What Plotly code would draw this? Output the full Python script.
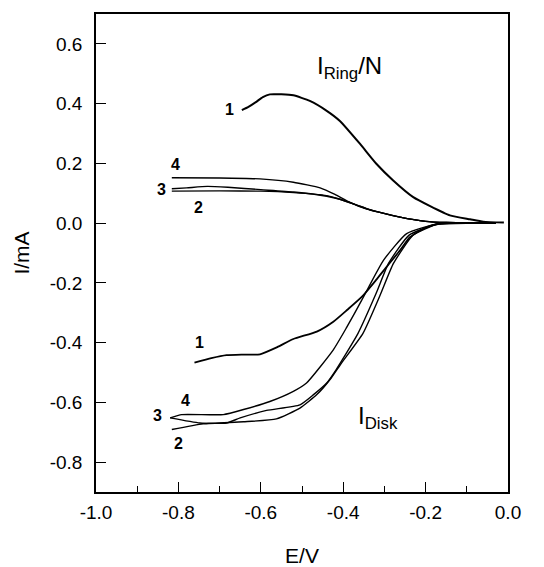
import plotly.graph_objects as go

# Ring currents (I_Ring/N)
ring1_E = [-0.646, -0.63, -0.612, -0.595, -0.578, -0.55, -0.521, -0.481, -0.44, -0.408, -0.359, -0.319, -0.278, -0.23, -0.189, -0.141, -0.092, -0.06, -0.01]
ring1_I = [0.378, 0.389, 0.405, 0.422, 0.431, 0.431, 0.428, 0.409, 0.376, 0.342, 0.265, 0.198, 0.142, 0.087, 0.057, 0.026, 0.013, 0.005, 0.002]

ring2_E = [-0.816, -0.70, -0.60, -0.52, -0.44, -0.408, -0.37, -0.335, -0.311, -0.262, -0.20, -0.15, -0.03]
ring2_I = [0.107, 0.108, 0.107, 0.102, 0.092, 0.080, 0.062, 0.045, 0.036, 0.020, 0.006, 0.002, 0.0]

ring3_E = [-0.816, -0.78, -0.73, -0.68, -0.60, -0.52, -0.44, -0.408, -0.37, -0.335, -0.311, -0.262, -0.20, -0.15, -0.03]
ring3_I = [0.115, 0.118, 0.123, 0.120, 0.112, 0.104, 0.090, 0.080, 0.062, 0.044, 0.036, 0.020, 0.006, 0.002, 0.0]

ring4_E = [-0.816, -0.70, -0.602, -0.521, -0.456, -0.42, -0.39, -0.355, -0.311, -0.262, -0.20, -0.15, -0.03]
ring4_I = [0.152, 0.151, 0.148, 0.137, 0.118, 0.096, 0.074, 0.053, 0.036, 0.020, 0.006, 0.002, 0.0]

# Disk currents
disk1_E = [-0.761, -0.72, -0.683, -0.64, -0.602, -0.56, -0.521, -0.464, -0.424, -0.39, -0.355, -0.32, -0.295, -0.262, -0.238, -0.197, -0.17, -0.10, -0.03]
disk1_I = [-0.467, -0.452, -0.442, -0.440, -0.439, -0.415, -0.388, -0.363, -0.330, -0.290, -0.247, -0.190, -0.147, -0.091, -0.047, -0.013, -0.003, 0.0, 0.0]

disk2_E = [-0.816, -0.74, -0.642, -0.562, -0.505, -0.464, -0.43, -0.405, -0.352, -0.31, -0.278, -0.23, -0.17, -0.10, -0.03]
disk2_I = [-0.691, -0.672, -0.665, -0.655, -0.619, -0.574, -0.52, -0.47, -0.369, -0.24, -0.135, -0.04, -0.003, 0.0, 0.0]

disk3_E = [-0.820, -0.748, -0.683, -0.650, -0.586, -0.505, -0.472, -0.44, -0.417, -0.364, -0.32, -0.29, -0.24, -0.17, -0.10, -0.03]
disk3_I = [-0.652, -0.669, -0.669, -0.652, -0.627, -0.608, -0.574, -0.535, -0.49, -0.369, -0.235, -0.135, -0.04, -0.003, 0.0, 0.0]

disk4_E = [-0.820, -0.792, -0.691, -0.642, -0.578, -0.521, -0.489, -0.424, -0.392, -0.355, -0.302, -0.246, -0.17, -0.10, -0.03]
disk4_I = [-0.652, -0.641, -0.641, -0.624, -0.597, -0.563, -0.535, -0.424, -0.35, -0.258, -0.124, -0.035, -0.002, 0.0, 0.0]

curve_labels = ["1", "4", "3", "2", "1", "4", "3", "2"]
label_E = [-0.677, -0.806, -0.842, -0.752, -0.750, -0.782, -0.850, -0.799]
label_I = [0.379, 0.196, 0.112, 0.052, -0.400, -0.594, -0.644, -0.738]

x_ticks = [-1.0, -0.8, -0.6, -0.4, -0.2, 0.0]
y_ticks = [-0.8, -0.6, -0.4, -0.2, 0.0, 0.2, 0.4, 0.6]

FONT = "Arial, Liberation Sans"

fig = go.Figure()
series = [
    (ring1_E, ring1_I, 2.0), (ring2_E, ring2_I, 1.4), (ring3_E, ring3_I, 1.4), (ring4_E, ring4_I, 1.4),
    (disk1_E, disk1_I, 1.8), (disk2_E, disk2_I, 1.4), (disk3_E, disk3_I, 1.4), (disk4_E, disk4_I, 1.4),
]
for xs, ys, w in series:
    fig.add_trace(go.Scatter(x=xs, y=ys, mode="lines",
                             line=dict(color="black", width=w, shape="spline", smoothing=0.5),
                             showlegend=False, hoverinfo="skip"))

for t, ex, iy in zip(curve_labels, label_E, label_I):
    fig.add_annotation(x=ex, y=iy, text="<b>%s</b>" % t, showarrow=False,
                       font=dict(family=FONT, size=16, color="black"))

fig.add_annotation(x=-0.385, y=0.522, text="I<sub>Ring</sub>/N", showarrow=False,
                   font=dict(family=FONT, size=24, color="black"))
fig.add_annotation(x=-0.316, y=-0.651, text="I<sub>Disk</sub>", showarrow=False,
                   font=dict(family=FONT, size=24, color="black"))

axis_font = dict(family=FONT, size=19, color="black")
title_font = dict(family=FONT, size=21, color="black")
fig.update_layout(
    width=544, height=567,
    margin=dict(l=96, r=36, t=14, b=75),
    paper_bgcolor="white", plot_bgcolor="white",
    xaxis=dict(range=[-1.0, 0.0], tickvals=x_ticks, ticktext=["%.1f" % v for v in x_ticks],
               ticks="inside", ticklen=10, tickwidth=1.2, tickcolor="black",
               minor=dict(dtick=0.1, tick0=0, ticks="inside", ticklen=6, tickwidth=1.2, tickcolor="black"),
               showline=True, linecolor="black", linewidth=1.5, mirror=True, automargin=False,
               showgrid=False, zeroline=False, tickfont=axis_font, ticklabelstandoff=2,
               title=dict(text="E/V", font=title_font, standoff=28)),
    yaxis=dict(range=[-0.9, 0.7], tickvals=y_ticks, ticktext=["%.1f" % v for v in y_ticks],
               ticks="inside", ticklen=10, tickwidth=1.2, tickcolor="black",
               showline=True, linecolor="black", linewidth=1.5, mirror=True, automargin=False,
               showgrid=False, zeroline=False, tickfont=axis_font, ticklabelstandoff=8,
               title=dict(text="I/mA", font=title_font, standoff=14)),
)

fig.write_html("out.html")
